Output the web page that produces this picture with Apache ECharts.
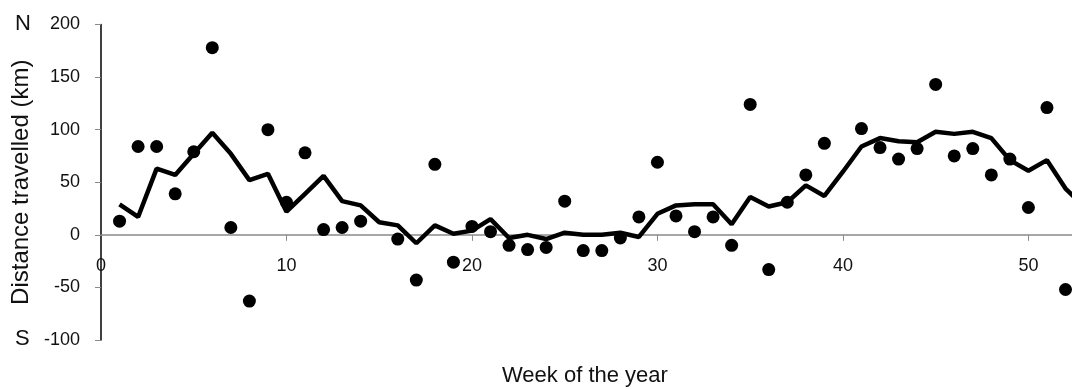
<!DOCTYPE html>
<html>
<head>
<meta charset="utf-8">
<script src="https://cdn.jsdelivr.net/npm/echarts@6/dist/echarts.min.js"></script>
<style>
html,body{margin:0;padding:0;background:#fff;}
#chart{width:1072px;height:390px;}
</style>
</head>
<body>
<div id="chart"></div>
<script>
// Week numbers
const lineWeeks = [1,2,3,4,5,6,7,8,9,10,11,12,13,14,15,16,17,18,19,20,21,22,23,24,25,26,27,28,29,30,31,32,33,34,35,36,37,38,39,40,41,42,43,44,45,46,47,48,49,50,51,52,53];
// Smoothed (moving average) distance, km
const lineValues = [29,17,63,57,77,97,77,52,58,22,39,56,32,28,12,9,-8,9,1,4,15,-3,0,-4,2,0,0,2,-2,20,28,29,29,10,36,27,31,47,37,60,84,92,89,88,98,96,98,92,71,61,71,44,27];
// Weekly distance travelled, km (null = no observation)
const pointWeeks = [1,2,3,4,5,6,7,8,9,10,11,12,13,14,15,16,17,18,19,20,21,22,23,24,25,26,27,28,29,30,31,32,33,34,35,36,37,38,39,40,41,42,43,44,45,46,47,48,49,50,51,52];
const pointValues = [13,84,84,39,79,178,7,-63,100,31,78,5,7,13,null,-4,-43,67,-26,8,3,-10,-14,-12,32,-15,-15,-3,17,69,18,3,17,-10,124,-33,31,57,87,null,101,83,72,82,143,75,82,57,72,26,121,-52];
const xTickLabels = [0,10,20,30,40,50];
const xTicks = [10,20,30,40,50];

const FONT = '"Liberation Sans", Arial, sans-serif';
const TXT = '#111';

const lineData = lineWeeks.map((w,i)=>[w,lineValues[i]]);
const pointData = pointWeeks.map((w,i)=>[w,pointValues[i]]).filter(d=>d[1]!==null);

const GRID_TOP = 24.5, GRID_BOTTOM = 50, H = 390;
const Y_MIN = -100, Y_MAX = 200;
// shift the x axis up to the zero line
const plotH = H - GRID_TOP - GRID_BOTTOM;
const zeroOffset = -plotH * (0 - Y_MIN) / (Y_MAX - Y_MIN);

const chart = echarts.init(document.getElementById('chart'), null, {renderer:'canvas'});
chart.setOption({
  animation:false,
  backgroundColor:'#fff',
  grid:{left:101,right:0,top:GRID_TOP,bottom:GRID_BOTTOM,containLabel:false},
  xAxis:{
    type:'value', min:0, max:52.35, position:'bottom', offset:zeroOffset,
    axisLine:{show:true,onZero:false,lineStyle:{color:'#8a8a8a',width:1.5}},
    axisTick:{show:true,customValues:xTicks,length:6,lineStyle:{color:'#8a8a8a',width:1}},
    axisLabel:{customValues:xTickLabels,margin:22,fontSize:18,fontFamily:FONT,color:TXT},
    splitLine:{show:false}
  },
  yAxis:{
    type:'value', min:Y_MIN, max:Y_MAX, interval:50,
    name:'Distance travelled (km)', nameLocation:'middle', nameGap:66, nameRotate:90,
    nameTextStyle:{fontSize:24,fontFamily:FONT,color:TXT},
    axisLine:{show:true,onZero:false,lineStyle:{color:'#000',width:1.5}},
    axisTick:{show:true,length:6,lineStyle:{color:'#8a8a8a',width:1}},
    axisLabel:{margin:21,fontSize:18,fontFamily:FONT,color:TXT},
    splitLine:{show:false}
  },
  graphic:[
    {type:'text',left:15,top:13,style:{text:'N',fontSize:22,fontFamily:FONT,fill:TXT}},
    {type:'text',left:15,top:328,style:{text:'S',fontSize:22,fontFamily:FONT,fill:TXT}},
    {type:'text',left:502,top:365,style:{text:'Week of the year',fontSize:22,fontFamily:FONT,fill:TXT}}
  ],
  series:[
    {type:'line',data:lineData,showSymbol:false,symbol:'none',lineStyle:{color:'#000',width:4.5},clip:true,z:2},
    {type:'scatter',data:pointData,symbol:'circle',symbolSize:13,itemStyle:{color:'#000',opacity:1},z:3}
  ]
});
</script>
</body>
</html>
